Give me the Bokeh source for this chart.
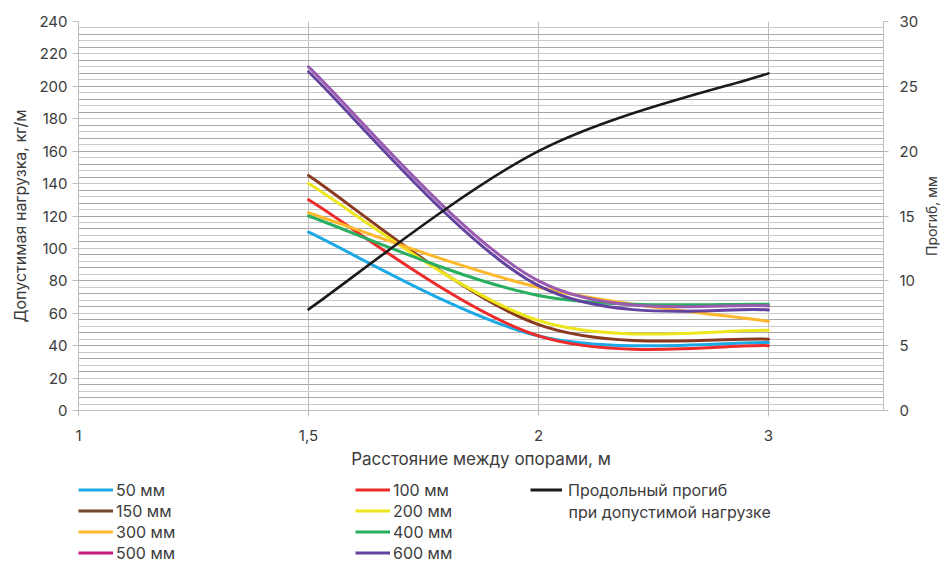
import math
from bokeh.plotting import figure
from bokeh.models import (Range1d, LinearAxis, FixedTicker, SingleIntervalTicker,
                          Legend, LegendItem, Label, ColumnDataSource)
from bokeh.layouts import column, row
from bokeh.embed import file_html
from bokeh.resources import INLINE

# ---------------- data ----------------
categories = ["1", "1,5", "2", "3"]          # x-axis categories (span, m)
spans = ["1,5", "2", "3"]                     # spans where values exist
series_names = ["50 мм", "100 мм", "150 мм", "200 мм",
                "300 мм", "400 мм", "500 мм", "600 мм"]
load_50 = [110, 46, 42]
load_100 = [130, 46, 40]
load_150 = [145, 53, 44]
load_200 = [140, 55.5, 49.5]
load_300 = [122, 76, 55]
load_400 = [120, 71, 65.5]
load_500 = [212, 80, 64.5]
load_600 = [209, 77, 62]
deflection = [7.8, 20, 26]
deflection_name_1 = "Продольный прогиб"
deflection_name_2 = "при допустимой нагрузке"
left_ticks = list(range(0, 241, 20))
right_ticks = list(range(0, 31, 5))

loads = [load_50, load_100, load_150, load_200, load_300, load_400, load_500, load_600]
line_colors = ["#1CA9E6", "#EE2B2B", "#8B3A1F", "#EEE61C",
               "#FDB92B", "#27AE5F", "#9B5BB0", "#6342A0"]
legend_colors = ["#1CA9E6", "#EE2B2B", "#70472A", "#EEE61C",
                 "#FDB92B", "#27AE5F", "#C8197C", "#6342A0"]
BLACK = "#1A1A1A"
FONT = "Inter"
TXT = "#3C3C3C"
GRID_MAJOR = "#A8A8A8"
GRID_MINOR = "#C8C8C8"
AXIS = "#BDBDBD"

xs = [categories.index(s) for s in spans]


def smooth_segments(xv, yv, k=1.0 / 6.0):
    """Bezier control points for a smoothed (Catmull-Rom style) line."""
    n = len(xv)
    d = {key: [] for key in ["x0", "y0", "x1", "y1", "cx0", "cy0", "cx1", "cy1"]}
    for i in range(n - 1):
        im, ip = max(i - 1, 0), min(i + 2, n - 1)
        d["x0"].append(xv[i]); d["y0"].append(yv[i])
        d["x1"].append(xv[i + 1]); d["y1"].append(yv[i + 1])
        d["cx0"].append(xv[i] + k * (xv[i + 1] - xv[im]))
        d["cy0"].append(yv[i] + k * (yv[i + 1] - yv[im]))
        d["cx1"].append(xv[i + 1] - k * (xv[ip] - xv[i]))
        d["cy1"].append(yv[i + 1] - k * (yv[ip] - yv[i]))
    return ColumnDataSource(d)


# ---------------- main chart ----------------
W = 941
SIDE_W = 20
MAIN_W = W - SIDE_W
MAIN_H = 475
FRAME_L, FRAME_R, FRAME_T, FRAME_B = 78, 883, 21, 410
p = figure(width=MAIN_W, height=MAIN_H, output_backend="svg", toolbar_location=None,
           x_range=Range1d(0, 3.5), y_range=Range1d(0, 240),
           min_border_left=FRAME_L, min_border_right=MAIN_W - FRAME_R,
           min_border_top=FRAME_T, min_border_bottom=MAIN_H - FRAME_B)
p.outline_line_color = None
p.background_fill_color = "white"
p.border_fill_color = "white"
p.extra_y_ranges = {"defl": Range1d(0, 30)}

# grids
p.ygrid.ticker = SingleIntervalTicker(interval=8, num_minor_ticks=2)
p.ygrid.grid_line_color = GRID_MAJOR
p.ygrid.minor_grid_line_color = GRID_MINOR
p.xgrid.ticker = FixedTicker(ticks=xs)
p.xgrid.grid_line_color = AXIS

# x axis
xa = p.xaxis[0]
xa.ticker = FixedTicker(ticks=list(range(len(categories))))
xa.major_label_overrides = {i: c for i, c in enumerate(categories)}
xa.axis_label = "Расстояние между опорами, м"

# left axis
ya = p.yaxis[0]
ya.ticker = FixedTicker(ticks=left_ticks)
ya.axis_label = "Допустимая нагрузка, кг/м"

# right axis (its title sits in the narrow strip to the right)
ra = LinearAxis(y_range_name="defl", ticker=FixedTicker(ticks=right_ticks))
p.add_layout(ra, "right")

for ax in (xa, ya, ra):
    ax.axis_line_color = AXIS
    ax.major_tick_line_color = AXIS
    ax.minor_tick_line_color = None
    ax.major_tick_in = 0
    ax.major_label_text_font = FONT
    ax.major_label_text_font_size = "15px"
    ax.major_label_text_color = TXT
    ax.axis_label_text_font = FONT
    ax.axis_label_text_font_style = "normal"
    ax.axis_label_text_color = TXT
    ax.axis_label_text_font_size = "16px"

xa.major_tick_out = 6
xa.major_label_standoff = 13
xa.axis_label_standoff = 5
xa.axis_label_text_font_size = "17px"
ya.major_tick_out = 6
ya.major_label_standoff = 5
ya.axis_label_standoff = 6
ra.major_tick_out = 5
ra.major_label_standoff = 11

for vals, col in zip(loads, line_colors):
    src = smooth_segments(xs, vals)
    p.bezier(x0="x0", y0="y0", x1="x1", y1="y1", cx0="cx0", cy0="cy0",
             cx1="cx1", cy1="cy1", source=src, line_color=col, line_width=3,
             line_cap="round")

src_d = smooth_segments(xs, deflection)
p.bezier(x0="x0", y0="y0", x1="x1", y1="y1", cx0="cx0", cy0="cy0",
         cx1="cx1", cy1="cy1", source=src_d, line_color=BLACK, line_width=2.6,
         line_cap="round", y_range_name="defl")

# ---------------- right-axis title strip ----------------
side = figure(width=SIDE_W, height=MAIN_H, output_backend="svg", toolbar_location=None,
              x_range=Range1d(0, 1), y_range=Range1d(0, 1),
              x_axis_location=None, y_axis_location=None,
              min_border_left=0, min_border_right=0,
              min_border_top=FRAME_T, min_border_bottom=MAIN_H - FRAME_B)
side.outline_line_color = None
side.grid.visible = False
side.background_fill_color = "white"
side.border_fill_color = "white"
side.add_layout(Label(x=SIDE_W / 2, y=(FRAME_B - FRAME_T) / 2, x_units="screen",
                      y_units="screen", text="Прогиб, мм", angle=math.pi / 2,
                      text_align="center", text_baseline="middle", text_font=FONT,
                      text_font_size="14px", text_color=TXT))

# ---------------- legend strip ----------------
LH = 88
leg = figure(width=W, height=LH, output_backend="svg", toolbar_location=None,
             x_range=Range1d(0, 1), y_range=Range1d(0, 1),
             x_axis_location=None, y_axis_location=None,
             min_border_left=FRAME_L, min_border_right=W - FRAME_R,
             min_border_top=0, min_border_bottom=0)
leg.outline_line_color = None
leg.grid.visible = False
leg.background_fill_color = "white"
leg.border_fill_color = "white"

# legend swatch renderers kept outside the visible range of the strip
swatches = [leg.line(x=[-3, -2], y=[-3, -3], line_color=c, line_width=3)
            for c in legend_colors]
black_sw = leg.line(x=[-3, -2], y=[-3, -3], line_color=BLACK, line_width=3)


def make_legend(items, x, y, gw, standoff):
    lg = Legend(items=items, location=(x, y), orientation="vertical",
                glyph_width=gw, glyph_height=21, label_height=21, spacing=0,
                padding=0, margin=0, label_standoff=standoff,
                label_text_font=FONT, label_text_font_size="16px",
                label_text_color=TXT, border_line_color=None,
                background_fill_alpha=0)
    leg.add_layout(lg, "center")


# positions are relative to the strip's frame (left edge at x=78)
col1 = [LegendItem(label=series_names[i], renderers=[swatches[i]]) for i in range(0, 8, 2)]
col2 = [LegendItem(label=series_names[i], renderers=[swatches[i]]) for i in range(1, 8, 2)]
make_legend(col1, 0, 0, 35, 3)
make_legend(col2, 277, 0, 35, 3)
make_legend([LegendItem(label=deflection_name_1, renderers=[black_sw])], 452, 63, 32, 6)
leg.add_layout(Label(x=490, y=52, x_units="screen", y_units="screen",
                     text=deflection_name_2, text_font=FONT, text_font_size="16px",
                     text_color=TXT, text_baseline="middle"))

layout = column(row(p, side, spacing=0), leg, spacing=0)
open("out.html", "w").write(file_html(layout, INLINE))
